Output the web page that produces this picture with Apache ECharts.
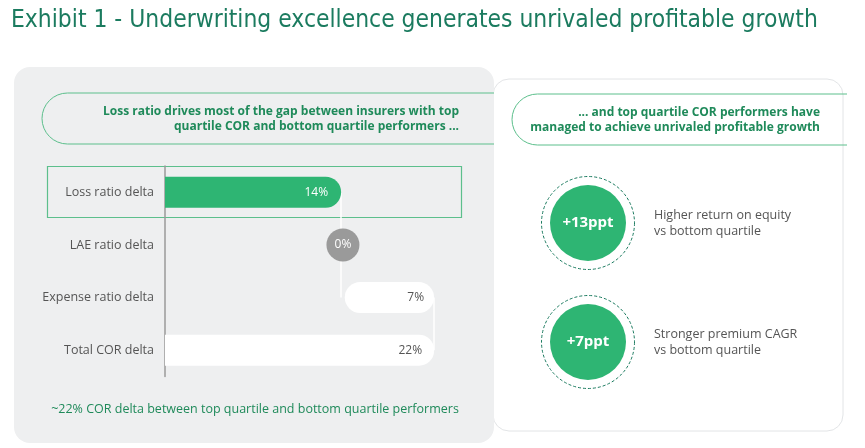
<!DOCTYPE html>
<html>
<head>
<meta charset="utf-8">
<script src="https://cdn.jsdelivr.net/npm/echarts@6/dist/echarts.min.js"></script>
<style>
html,body{margin:0;padding:0;background:#fff;}
#c{width:865px;height:448px;}
</style>
</head>
<body>
<div id="c"></div>
<script>
var titleText = 'Exhibit 1 - Underwriting excellence generates unrivaled profitable growth';
var leftHeader = 'Loss ratio drives most of the gap between insurers with top\nquartile COR and bottom quartile performers ...';
var rightHeader = '... and top quartile COR performers have\nmanaged to achieve unrivaled profitable growth';
var footerText = '~22% COR delta between top quartile and bottom quartile performers';

var categories = ['Loss ratio delta', 'LAE ratio delta', 'Expense ratio delta', 'Total COR delta'];
var deltaValues = [14.4, 0.3, 7.3, 22];

var kpiNames = ['ROE', 'Premium CAGR'];
var kpiValues = [13, 7];
var kpiDescriptions = ['Higher return on equity\nvs bottom quartile', 'Stronger premium CAGR\nvs bottom quartile'];

var GREEN = '#2eb573';
var DARK_GREEN = '#1b7b5f';
var TEXT_GREEN = '#1f8a5a';
var LINE_GREEN = '#5cbf8c';
var GREY_TEXT = '#555555';
var FONT = '"Open Sans", "Noto Sans", sans-serif';

var lossEnd = deltaValues[0];
var laeEnd = lossEnd + deltaValues[1];
var baseValues = [0, '-', laeEnd, 0];

var chart = echarts.init(document.getElementById('c'), null, {renderer: 'canvas'});

function pct(v) { return Math.round(v) + '%'; }

var option = {
  animation: false,
  textStyle: {fontFamily: FONT},
  graphic: [
    {type: 'text', x: 11, y: 21, style: {text: titleText, fill: DARK_GREEN, font: '24.4px "Liberation Sans Narrow", "DejaVu Sans Condensed", sans-serif', textVerticalAlign: 'middle'}},
    {type: 'rect', shape: {x: 493, y: 79, width: 350, height: 352, r: 16}, style: {fill: '#ffffff', stroke: '#e2e4e6', lineWidth: 1}},
    {type: 'rect', shape: {x: 14, y: 67, width: 480, height: 376, r: 16}, style: {fill: '#eeeff0'}},
    {type: 'arc', shape: {cx: 67.5, cy: 118.5, r: 25.5, startAngle: Math.PI / 2, endAngle: Math.PI * 1.5, clockwise: true}, style: {stroke: LINE_GREEN, lineWidth: 1, fill: null}},
    {type: 'line', shape: {x1: 67.5, y1: 93, x2: 494, y2: 93}, style: {stroke: LINE_GREEN, lineWidth: 1}},
    {type: 'line', shape: {x1: 67.5, y1: 144, x2: 494, y2: 144}, style: {stroke: LINE_GREEN, lineWidth: 1}},
    {type: 'text', x: 459, y: 119, style: {text: leftHeader, fill: TEXT_GREEN, font: 'bold 12px ' + FONT, textAlign: 'right', textVerticalAlign: 'middle', lineHeight: 15}},
    {type: 'arc', shape: {cx: 537.5, cy: 119.5, r: 25.5, startAngle: Math.PI / 2, endAngle: Math.PI * 1.5, clockwise: true}, style: {stroke: LINE_GREEN, lineWidth: 1, fill: null}},
    {type: 'line', shape: {x1: 537.5, y1: 94, x2: 847, y2: 94}, style: {stroke: LINE_GREEN, lineWidth: 1}},
    {type: 'line', shape: {x1: 537.5, y1: 145, x2: 847, y2: 145}, style: {stroke: LINE_GREEN, lineWidth: 1}},
    {type: 'text', x: 820, y: 120, style: {text: rightHeader, fill: TEXT_GREEN, font: 'bold 12px ' + FONT, textAlign: 'right', textVerticalAlign: 'middle', lineHeight: 15}},
    {type: 'rect', shape: {x: 47.5, y: 166.5, width: 414, height: 51}, style: {fill: 'rgba(0,0,0,0)', stroke: LINE_GREEN, lineWidth: 1.2}},
    {type: 'text', x: 255, y: 409, style: {text: footerText, fill: TEXT_GREEN, font: '12.5px ' + FONT, textAlign: 'center', textVerticalAlign: 'middle'}}
  ],
  grid: [
    {left: 165, top: 166, width: 305.75, height: 210.5},
    {left: 540, top: 163.5, width: 96, height: 238}
  ],
  xAxis: [
    {type: 'value', gridIndex: 0, min: 0, max: 25, show: false},
    {type: 'value', gridIndex: 1, min: -1, max: 1, show: false}
  ],
  yAxis: [
    {type: 'category', gridIndex: 0, data: categories, inverse: true,
     axisLine: {show: true, lineStyle: {color: '#9a9a9a', width: 1.5}},
     axisTick: {show: false}, splitLine: {show: false},
     axisLabel: {color: GREY_TEXT, fontSize: 12.5, margin: 11, fontFamily: FONT}},
    {type: 'category', gridIndex: 1, data: kpiNames, inverse: true, show: false}
  ],
  series: [
    {type: 'bar', stack: 'w', xAxisIndex: 0, yAxisIndex: 0, z: 1, silent: true, barWidth: 31,
     itemStyle: {color: 'rgba(0,0,0,0)'}, data: baseValues,
     markLine: {silent: true, z: 1, symbol: 'none', label: {show: false},
       lineStyle: {color: 'rgba(255,255,255,0.75)', width: 2, type: 'solid'},
       data: [
         [{coord: [lossEnd, categories[0]]}, {coord: [lossEnd, categories[2]]}],
         [{coord: [deltaValues[3], categories[2]]}, {coord: [deltaValues[3], categories[3]]}]
       ]}},
    {type: 'bar', stack: 'w', xAxisIndex: 0, yAxisIndex: 0, z: 2, silent: true, barWidth: 31,
     data: [
       {value: deltaValues[0], itemStyle: {color: GREEN, borderRadius: [0, 16, 16, 0]},
        label: {show: true, position: 'insideRight', distance: 13, color: '#ffffff', fontSize: 12, formatter: function(p){return pct(p.value);}}},
       '-',
       {value: deltaValues[2], itemStyle: {color: '#ffffff', borderRadius: 16},
        label: {show: true, position: 'insideRight', distance: 10, color: GREY_TEXT, fontSize: 12, formatter: function(p){return pct(p.value);}}},
       {value: deltaValues[3], itemStyle: {color: '#ffffff', borderRadius: [0, 15, 15, 0]},
        label: {show: true, position: 'insideRight', distance: 12, color: GREY_TEXT, fontSize: 12, formatter: function(p){return pct(p.value);}}}
     ]},
    {type: 'scatter', xAxisIndex: 0, yAxisIndex: 0, z: 3, silent: true, symbolSize: 33,
     itemStyle: {color: '#9a9a9a', opacity: 1},
     label: {show: true, position: 'inside', color: '#ffffff', fontSize: 12, formatter: function(){return pct(deltaValues[1]);}},
     data: [[lossEnd + deltaValues[1] / 2, categories[1]]]},
    {type: 'scatter', xAxisIndex: 1, yAxisIndex: 1, silent: true, symbolSize: 93, z: 2,
     itemStyle: {color: 'rgba(0,0,0,0)', borderColor: DARK_GREEN, borderWidth: 1, borderType: [3, 2], opacity: 1},
     label: {show: true, position: 'right', distance: 19, color: GREY_TEXT, fontSize: 12.5, lineHeight: 16, align: 'left',
       formatter: function(p){return kpiDescriptions[p.dataIndex];}},
     data: kpiNames.map(function(n){return [0, n];})},
    {type: 'scatter', xAxisIndex: 1, yAxisIndex: 1, silent: true, symbolSize: 76, z: 3,
     itemStyle: {color: GREEN, opacity: 1},
     label: {show: true, position: 'inside', color: '#ffffff', fontSize: 15, fontWeight: 'bold',
       formatter: function(p){return '+' + kpiValues[p.dataIndex] + 'ppt';}},
     data: kpiNames.map(function(n){return [0, n];})}
  ]
};
chart.setOption(option);
</script>
</body>
</html>
